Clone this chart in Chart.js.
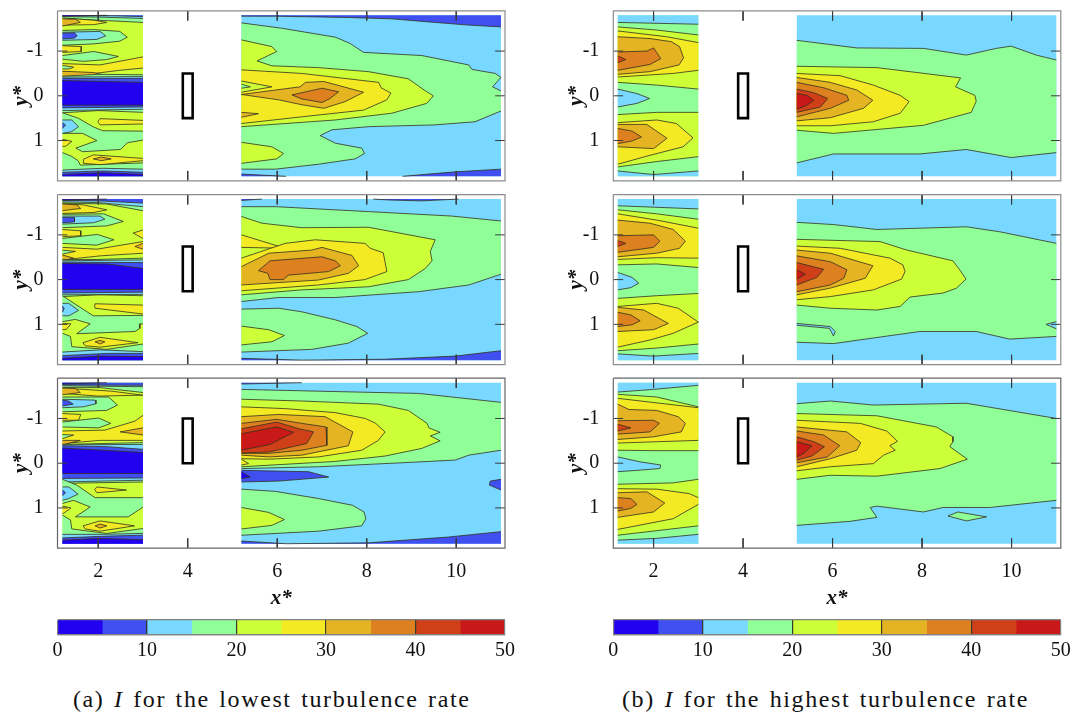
<!DOCTYPE html>
<html><head><meta charset="utf-8">
<script src="https://cdn.jsdelivr.net/npm/chart.js@4/dist/chart.umd.min.js"></script>
<style>
html,body{margin:0;padding:0;background:#fff}
#root{position:relative;width:1071px;height:713px;overflow:hidden;background:#fff}
canvas{position:absolute;filter:blur(.35px)}
.cap{position:absolute;top:686px;font:24px "Liberation Serif",serif;letter-spacing:1.6px;word-spacing:2px;white-space:pre;color:#111}
</style></head><body><div id="root">
<div class="cap" style="left:73px">(a) <i>I</i> for the lowest turbulence rate</div>
<div class="cap" style="left:622px">(b) <i>I</i> for the highest turbulence rate</div>
</div>
<script>
const levelEdges=[0,5,10,15,20,25,30,35,40,45,50];
const levelColors=['#2200f0','#4050f0','#78d8ff','#90ff98','#ccff38','#f4ea24','#e4b422','#dc8020','#d04018','#c81818'];
const xTicks=[2,4,6,8,10], yTicks=[-1,0,1], barTicks=[0,10,20,30,40,50];
const xRangeA=[1.09,11.09], xRangeB=[1.1,11.1], yRange=[-1.9,1.9];
const obstacleA=[3.89,-.5,4.11,-.5,4.11,.5,3.89,.5];
const obstacleB=[3.89,-.74,4.11,-.74,4.11,.26,3.89,.26];
const obstacleC=[3.89,-1,4.11,-1,4.11,0,3.89,0];
const fullLeft=[1.2,-1.8,3,-1.8,3,1.8,1.2,1.8];
const fullRight=[5.2,-1.8,11,-1.8,11,1.8,5.2,1.8];

const contoursA1Left=[[4,fullLeft],
[3,[1.2,-1.8,3,-1.8,3,-1.64,2.2,-1.68,1.2,-1.73]],
[2,[1.2,-1.8,3,-1.8,3,-1.73,2,-1.76,1.2,-1.77]],
[1,[1.2,-1.8,3,-1.8,3,-1.77,2.3,-1.79,1.2,-1.79]],
[0,[1.2,-1.8,2.2,-1.8,1.2,-1.78]],
[5,[1.2,-1.74,1.9,-1.69,2.19,-1.64,1.9,-1.59,1.2,-1.58]],
[6,[1.2,-1.72,1.5,-1.71,1.6,-1.64,1.2,-1.56]],
[3,[1.2,-1.46,1.9,-1.48,2.48,-1.44,2.65,-1.31,2.48,-1.22,1.89,-1.16,1.2,-1.13]],
[2,[1.2,-1.42,2.04,-1.44,2.17,-1.34,1.97,-1.26,1.2,-1.24]],
[1,[1.2,-1.4,1.47,-1.41,1.53,-1.34,1.47,-1.29,1.2,-1.27]],
[5,[1.2,-1.12,1.62,-1.1,1.62,-.99,1.2,-.97]],
[3,[1.2,-.9,1.9,-.99,2.45,-.88,2.19,-.81,1.67,-.77,1.2,-.82]],
[5,[1.2,-.72,2.04,-.69,3,-.87,3,-.62,2.48,-.57,1.67,-.47,1.2,-.54]],
[3,[1.2,-.68,1.45,-.64,1.35,-.6,1.2,-.6]],
[6,[1.2,-.55,1.9,-.52,2.1,-.47,1.2,-.42]],
[3,[1.2,-.44,2,-.48,3,-.47,3,.37,2,.33,1.2,.38]],
[2,[1.2,-.42,3,-.43,3,.3,1.2,.33]],
[1,[1.2,-.39,3,-.39,3,.25,1.2,.27]],
[0,[1.2,-.34,3,-.3,3,.21,1.2,.21]],
[3,[1.2,.38,1.55,.5,1.9,.7,2.1,.78,3,.79,3,.99,2.65,1.05,2.5,1.2,1.65,1.25,1.5,1.17,1.97,1,1.65,.84,1.2,.84]],
[2,[1.2,.54,1.41,.54,1.56,.69,1.41,.8,1.2,.84]],
[1,[1.2,.6,1.27,.65,1.2,.73]],
[5,[1.2,.97,1.41,1.02,1.27,1.13,1.2,1.13]],
[5,[2.04,.51,3,.55,3,.63,2.04,.65,1.99,.58]],
[3,[1.2,1.27,1.4,1.35,1.55,1.45,1.6,1.55,3,1.5,3,1.8,1.2,1.8]],
[5,[1.67,1.42,1.89,1.32,3,1.4,3,1.45,2.04,1.54,1.67,1.51]],
[6,[1.89,1.41,2.07,1.37,2.29,1.41,2.07,1.45]],
[2,[1.2,1.66,2.1,1.62,3,1.64,3,1.8,1.2,1.8]],
[1,[1.2,1.71,2.1,1.68,3,1.71,3,1.8,1.2,1.8]],
[0,[1.2,1.76,2.1,1.72,3,1.76,3,1.8,1.2,1.8]]];

const contoursA1Right=[[2,fullRight],
[1,[5.2,-1.8,11,-1.8,11,-1.54,10.28,-1.58,9.53,-1.64,8.56,-1.72,7.59,-1.75,5.96,-1.78,5.2,-1.78]],
[1,[5.2,1.75,6.2,1.8,8.8,1.8,9.98,1.7,11,1.64,11,1.8,5.2,1.8]],
[3,[5.2,-1.63,6.1,-1.51,7.3,-1.31,7.63,-1.17,7.93,-.97,9.23,-.9,10.28,-.69,10.35,-.59,10.87,-.5,11,-.41,10.81,-.2,11,-.11,11,.34,10.42,.58,9.53,.65,8.04,.69,7.22,.76,6.96,.89,7.3,1.06,7.89,1.17,7.95,1.29,7.74,1.41,6.92,1.53,5.96,1.64,5.2,1.64]],
[4,[5.2,-1.25,5.88,-1.1,5.99,-.99,5.55,-.78,5.88,-.67,6.92,-.63,8.04,-.54,8.93,-.38,9.31,-.11,9.49,0,9.34,.17,8.56,.39,7.3,.54,5.2,.69]],
[4,[5.2,1.04,5.88,1.14,6.14,1.29,5.99,1.41,5.2,1.51]],
[5,[5.2,-.58,6.55,-.5,8.27,-.3,8.32,-.18,8.54,-.06,8.45,.09,7.93,.32,6.55,.47,5.2,.62]],
[4,[5.2,-.33,5.88,-.2,5.2,-.08]],
[3,[5.2,-.26,5.4,-.2,5.2,-.17]],
[6,[5.2,-.03,6.51,-.2,6.63,-.3,7.04,-.32,7.93,-.08,7.52,.13,7.04,.28,6.55,.2,6.03,.09]],
[7,[6.33,-.02,7,-.17,7.37,-.09,7.18,.06,7,.15,6.55,.07]],
[6,[5.2,.37,5.58,.4,5.2,.48]]];

const contoursA2Left=[[4,fullLeft],
[3,[1.2,-1.8,3,-1.8,3,-1.54,2.19,-1.69,1.2,-1.71]],
[2,[1.2,-1.8,3,-1.8,3,-1.63,2,-1.72,1.2,-1.74]],
[1,[1.2,-1.8,3,-1.8,3,-1.71,2,-1.76,1.2,-1.77]],
[0,[1.2,-1.8,2.19,-1.8,1.2,-1.78]],
[5,[1.2,-1.7,1.67,-1.67,2.19,-1.56,1.9,-1.5,1.2,-1.48]],
[6,[1.2,-1.69,1.52,-1.67,1.61,-1.59,1.2,-1.54]],
[3,[1.2,-1.46,2.12,-1.47,2.56,-1.3,2.19,-1.2,1.2,-1.16]],
[2,[1.2,-1.42,2.04,-1.42,2.15,-1.35,1.89,-1.27,1.2,-1.24]],
[1,[1.2,-1.39,1.47,-1.39,1.47,-1.29,1.2,-1.27]],
[5,[1.2,-1.12,1.61,-1.09,1.61,-.98,1.2,-.96]],
[3,[1.2,-.92,1.98,-1.01,2.35,-.89,1.97,-.77,1.2,-.81]],
[5,[2.78,-1.04,3,-1.11,3,-.92]],
[5,[1.2,-.72,1.97,-.68,3,-.85,3,-.59,2.04,-.53,1.2,-.44]],
[6,[2.82,-.74,3,-.81,3,-.68]],
[3,[1.2,-.66,1.49,-.63,1.2,-.57]],
[6,[1.2,-.55,1.45,-.48,1.2,-.42]],
[3,[1.2,-.45,1.97,-.45,3,-.48,3,.36,2,.34,1.2,.38]],
[2,[1.2,-.42,3,-.44,3,.33,1.2,.34]],
[1,[1.2,-.39,3,-.38,3,.28,1.2,.3]],
[0,[1.2,-.36,2.19,-.35,3,-.25,3,.22,1.2,.22]],
[3,[1.2,.36,1.52,.57,1.89,.81,3,.8,3,.99,2.93,.99,2.93,1.09,2.82,1.16,1.52,1.21,1.82,.99,1.49,.89,1.2,.94]],
[5,[1.93,.54,3,.57,3,.77,1.93,.64,1.92,.6]],
[2,[1.2,.53,1.34,.53,1.56,.69,1.34,.81,1.2,.81]],
[1,[1.2,.59,1.24,.64,1.2,.73]],
[5,[1.2,.98,1.39,.99,1.29,1.11,1.2,1.12]],
[3,[1.2,1.2,1.38,1.27,1.41,1.5,2.19,1.56,3,1.44,3,1.8,1.2,1.8]],
[5,[1.66,1.41,2.04,1.29,2.89,1.41,2.04,1.51,1.71,1.48]],
[6,[1.93,1.39,2.04,1.36,2.15,1.39,2.04,1.44]],
[2,[1.2,1.62,2.04,1.57,3,1.61,3,1.8,1.2,1.8]],
[1,[1.2,1.7,2.19,1.65,3,1.65,3,1.8,1.2,1.8]],
[0,[1.2,1.76,2.04,1.71,3,1.72,3,1.8,1.2,1.8]]];

const contoursA2Right=[[2,fullRight],
[1,[5.2,-1.8,5.66,-1.8,5.2,-1.77]],
[1,[8.15,-1.8,10.05,-1.8,9.23,-1.76,8.49,-1.78]],
[1,[5.2,1.76,6.55,1.8,8.41,1.78,9.98,1.71,11,1.59,11,1.8,5.2,1.8]],
[3,[5.2,-1.63,5.97,-1.63,8.04,-1.52,9.9,-1.42,11,-1.31,11,-.12,10.28,.12,9.16,.27,7.3,.4,6.03,.4,5.2,.49]],
[3,[5.2,.66,6.03,.64,6.55,.72,7.3,.9,7.78,1.05,8.02,1.2,7.59,1.42,6.77,1.56,5.2,1.62]],
[4,[5.2,-1.41,5.66,-1.26,6.55,-1.16,8.04,-1.17,9.53,-.89,9.42,-.63,9.46,-.42,9.31,-.25,8.93,0,8.04,.16,6.55,.23,5.2,.34]],
[4,[5.2,1.04,5.81,1.12,6.16,1.25,5.88,1.39,5.2,1.46]],
[5,[5.2,-1,6.18,-.7,5.2,-.72]],
[5,[5.2,-.48,6.18,-.81,6.85,-.89,7.96,-.81,8.08,-.7,8.37,-.6,8.45,-.18,7.96,0,6.92,.12,5.2,.25]],
[6,[5.2,-.29,5.81,-.59,6.77,-.66,7,-.72,7.67,-.54,7.82,-.31,7.59,-.14,6.92,.01,5.2,.12]],
[7,[5.58,-.2,5.84,-.42,7,-.51,7.3,-.42,7.41,-.31,7.15,-.18,6.25,-.1,6.14,0,5.84,0,5.79,-.14]]];

const contoursA3Left=[[4,fullLeft],
[3,[1.2,-1.8,3,-1.8,3,-1.58,2.04,-1.69,1.2,-1.69]],
[2,[1.2,-1.8,3,-1.8,3,-1.71,1.2,-1.73]],
[1,[1.2,-1.8,3,-1.8,3,-1.74,1.2,-1.75]],
[0,[1.2,-1.8,2.19,-1.8,1.2,-1.77]],
[5,[1.2,-1.67,1.67,-1.65,2.3,-1.61,3,-1.52,2,-1.5,1.2,-1.56]],
[6,[1.2,-1.68,1.49,-1.67,1.6,-1.58,1.2,-1.53]],
[3,[1.2,-1.48,2.23,-1.48,2.43,-1.3,2.19,-1.18,1.2,-1.15]],
[2,[1.2,-1.43,1.93,-1.41,1.95,-1.33,1.67,-1.26,1.2,-1.24]],
[1,[1.2,-1.41,1.34,-1.39,1.44,-1.32,1.2,-1.28]],
[5,[1.2,-1.11,1.61,-1.09,1.56,-.96,1.2,-.96]],
[3,[1.2,-.92,2.01,-1.01,2.28,-.89,2.01,-.79,1.2,-.81]],
[5,[1.2,-.72,2.15,-.74,2.52,-.85,2.82,-.94,3,-1.07,3,-.51,2.04,-.51,1.2,-.44]],
[6,[2.49,-.7,3,-.79,3,-.63]],
[3,[1.2,-.64,1.45,-.63,1.2,-.55]],
[6,[1.2,-.51,1.6,-.51,1.2,-.41]],
[3,[1.2,-.42,3,-.46,3,.42,1.2,.45]],
[2,[1.2,-.41,3,-.42,3,.38,1.2,.42]],
[1,[1.2,-.39,2.19,-.37,3,-.31,3,.33,1.2,.34]],
[0,[1.2,-.34,3,-.24,3,.23,1.2,.23]],
[3,[1.2,.36,1.52,.49,1.93,.77,3,.77,3,.98,2.67,1.2,1.49,1.2,1.82,.98,1.45,.83,1.2,.9]],
[5,[1.97,.53,2.63,.6,1.97,.66,1.92,.59]],
[2,[1.2,.53,1.34,.53,1.55,.69,1.34,.79,1.2,.83]],
[1,[1.2,.6,1.27,.66,1.2,.73]],
[5,[1.2,.96,1.39,1,1.23,1.12,1.2,1.12]],
[3,[1.2,1.16,1.38,1.27,1.41,1.47,2.19,1.57,3,1.46,3,1.8,1.2,1.8]],
[5,[1.66,1.4,2.04,1.29,2.81,1.4,2.04,1.52,1.71,1.47]],
[6,[1.93,1.4,2.04,1.36,2.19,1.4,2.04,1.45]],
[2,[1.2,1.59,2.04,1.59,3,1.57,3,1.8,1.2,1.8]],
[1,[1.2,1.67,2.19,1.63,3,1.61,3,1.8,1.2,1.8]],
[0,[1.2,1.72,2.04,1.68,3,1.71,3,1.8,1.2,1.8]]];

const contoursA3Right=[[2,fullRight],
[1,[5.2,-1.8,6.55,-1.8,5.2,-1.77]],
[1,[5.2,1.74,6.2,1.8,8.04,1.78,9.83,1.65,11,1.53,11,1.8,5.2,1.8]],
[1,[5.2,.16,6.7,.19,7.15,.31,6.03,.4,5.2,.42]],
[0,[5.2,.19,5.4,.31,5.2,.34]],
[1,[10.76,.4,11,.36,11,.6,10.74,.49]],
[3,[5.2,-1.65,6.92,-1.61,9.16,-1.56,11,-1.36,11,-.29,10.28,-.18,9.98,-.07,8.79,-.01,6.92,.08,5.2,.12]],
[3,[5.2,.58,5.96,.63,6.92,.79,7.68,.94,7.94,1.09,7.98,1.24,7.89,1.4,6.92,1.52,5.2,1.61]],
[4,[5.2,-1.43,6.55,-1.39,8.26,-1.32,8.93,-1.18,9.35,-.89,9.39,-.79,9.64,-.69,9.42,-.61,9.64,-.5,9.23,-.33,8.41,-.16,7.3,-.04,5.2,.08]],
[4,[5.2,.99,5.81,1.1,6.16,1.26,5.88,1.39,5.2,1.47]],
[5,[5.2,-1.26,6.18,-1.22,7.3,-1.13,7.97,-1,8.2,-.89,8.41,-.7,8.26,-.51,7.89,-.29,6.92,-.14,5.81,-.09,5.2,-.1]],
[5,[5.2,-.09,5.36,.01,5.2,.04]],
[6,[5.2,-1.04,6.03,-1.09,7.07,-1.04,7.69,-.7,7.59,-.39,6.55,-.18,5.81,-.14,5.2,-.18]],
[7,[5.2,-.89,5.99,-.98,6.55,-.89,7.09,-.81,7.11,-.4,6.55,-.29,5.81,-.22,5.2,-.22]],
[8,[5.2,-.77,5.99,-.92,6.48,-.77,6.81,-.7,6.66,-.44,5.81,-.25,5.2,-.23]],
[9,[5.2,-.66,5.99,-.81,6.37,-.69,5.84,-.42,5.2,-.29]]];

const contoursB1Left=[[3,fullLeft],
[2,[1.2,-1.8,3,-1.8,3,-1.6,1.2,-1.64]],
[2,[1.2,-.15,1.63,-.05,1.91,.06,1.63,.17,1.2,.25]],
[2,[1.2,1.68,2,1.76,3,1.68,3,1.8,1.2,1.8]],
[4,[1.2,-1.54,2.07,-1.47,3,-1.36,3,-.15,2.07,-.24,1.2,-.3]],
[5,[1.2,-1.45,2.29,-1.32,3,-1.19,3,-.57,2.44,-.5,1.2,-.42]],
[6,[1.2,-1.32,1.92,-1.28,2.4,-1.21,2.58,-1.1,2.67,-.85,2.57,-.69,1.92,-.54,1.2,-.48]],
[7,[1.2,-.98,1.85,-1,2,-1.07,2.16,-.83,1.92,-.7,1.2,-.57]],
[8,[1.2,-.89,1.38,-.81,1.2,-.74]],
[4,[1.2,.42,2.07,.37,3,.37,3,1.36,2.07,1.47,1.2,1.59]],
[5,[1.2,.6,2.07,.54,2.51,.62,2.88,.94,2.66,1.14,1.92,1.33,1.2,1.53]],
[6,[1.2,.64,1.85,.64,2.3,.95,2,1.18,1.2,1.14]],
[7,[1.2,.73,1.52,.79,1.73,.92,1.52,1.01,1.2,1.07]]];

const contoursB1Right=[[2,fullRight],
[3,[5.2,-1.24,6.54,-1.07,8.03,-1.06,8.99,-.91,9.66,-1.06,9.99,-1.11,10.55,-.91,11,-.8,11,1.27,9.99,1.38,8.99,1.2,7.95,1.3,6.02,1.3,5.2,1.5]],
[4,[5.2,-.66,6.99,-.63,8.86,-.4,8.75,-.2,9.18,-.01,9.21,.12,9.1,.37,8.03,.66,6.02,.84,5.2,.77]],
[5,[5.2,-.5,6.17,-.45,6.91,-.24,7.51,-.01,7.71,.13,7.51,.39,6.91,.58,5.95,.67,5.2,.67]],
[6,[5.2,-.41,5.95,-.3,6.54,-.13,6.9,.1,6.69,.28,5.95,.49,5.2,.56]],
[7,[5.2,-.3,5.8,-.18,6.32,-.01,6.36,.1,5.95,.28,5.2,.47]],
[8,[5.2,-.15,5.58,-.07,5.89,.06,5.73,.25,5.2,.37]],
[9,[5.2,-.05,5.43,-.01,5.58,.1,5.43,.21,5.2,.3]]];

const contoursB2Left=[[3,fullLeft],
[2,[1.2,-1.8,3,-1.8,3,-1.58,1.2,-1.65]],
[2,[1.2,-.16,1.52,-.05,1.67,.08,1.49,.18,1.2,.23]],
[2,[1.2,1.66,2,1.71,3,1.65,3,1.8,1.2,1.8]],
[4,[1.2,-1.56,2.07,-1.47,3,-1.35,3,-.27,2.07,-.35,1.2,-.33]],
[5,[1.2,-1.47,2.07,-1.33,3,-1.15,3,-.48,2.07,-.49,1.2,-.45]],
[6,[1.2,-1.33,1.92,-1.26,2.44,-1.12,2.71,-.86,2.58,-.7,2.07,-.59,1.2,-.51]],
[7,[1.2,-.98,2,-1,2.14,-.86,2,-.72,1.2,-.61]],
[8,[1.2,-.87,1.38,-.81,1.2,-.74]],
[4,[1.2,.42,2.07,.36,3,.31,3,1.44,2.07,1.53,1.2,1.59]],
[5,[1.2,.6,2.07,.53,2.55,.64,3,.95,2.44,1.2,1.92,1.35,1.2,1.51]],
[6,[1.2,.62,1.78,.68,2.33,.98,2,1.12,1.2,1.16]],
[7,[1.2,.73,1.49,.79,1.7,.92,1.52,1.01,1.2,1.05]]];

const contoursB2Right=[[2,fullRight],
[3,[5.2,-1.28,6.02,-1.23,6.99,-1.12,8.99,-1.18,9.73,-1.07,11,-.81,11,1.27,9.96,1.33,9.21,1.16,7.95,1.16,6.02,1.43,5.2,1.4]],
[2,[5.2,.98,5.95,1.05,6.06,1.16,6.02,1.26,5.93,1.09,5.2,1.02]],
[2,[10.77,1,11,.94,11,1.1]],
[4,[5.2,-.9,7.06,-.85,7.66,-.66,8.69,-.42,8.84,-.22,8.98,-.01,8.77,.19,8.47,.3,7.73,.39,7.51,.6,6.99,.68,5.95,.64,5.2,.57]],
[5,[5.2,-.75,6.17,-.7,7.28,-.48,7.57,-.33,7.62,-.18,7.54,-.01,6.91,.23,5.95,.38,5.2,.45]],
[6,[5.2,-.66,5.95,-.59,6.9,-.31,6.73,-.03,5.95,.19,5.2,.34]],
[7,[5.2,-.53,5.95,-.4,6.32,-.22,6.25,-.03,5.95,.12,5.2,.27]],
[8,[5.2,-.38,5.8,-.23,5.65,-.05,5.2,.12]],
[9,[5.2,-.22,5.39,-.12,5.2,-.01]]];

const contoursB3Left=[[3,fullLeft],
[2,[1.2,-1.8,3,-1.8,3,-1.74,2,-1.65,1.2,-1.59]],
[2,[1.2,-.14,1.7,-.03,2.16,.04,2.14,.12,1.63,.16,1.2,.19]],
[2,[1.2,1.72,2.07,1.68,3,1.59,3,1.8,1.2,1.8]],
[4,[1.2,-1.54,2.07,-1.48,3,-1.26,3,-.28,2.07,-.28,1.2,-.29]],
[5,[1.2,-1.45,3,-1.24,3,-.51,2.07,-.48,1.2,-.45]],
[6,[1.2,-1.32,1.45,-1.2,2.07,-1.18,2.55,-1.04,2.71,-.89,2.62,-.7,2,-.59,1.2,-.53]],
[7,[1.2,-.95,2,-.96,2.13,-.89,1.92,-.7,1.2,-.65]],
[8,[1.2,-.87,1.49,-.79,1.2,-.72]],
[4,[1.2,.47,2.44,.44,3,.36,3,1.4,1.2,1.61]],
[5,[1.2,.57,2.07,.58,2.8,.68,3,.77,3,.92,2.44,1.24,1.2,1.48]],
[6,[1.2,.66,1.85,.64,2.25,.89,2,1.09,1.2,1.21]],
[7,[1.2,.77,1.49,.79,1.63,.92,1.49,1.01,1.2,1.07]]];

const contoursB3Right=[[2,fullRight],
[3,[5.2,-1.33,5.95,-1.39,6.91,-1.3,8.99,-1.34,11,-1,11,.83,9.51,.99,8.47,.99,8.03,1.09,6.99,.96,6.84,.99,6.99,1.21,6.39,1.3,5.2,1.39]],
[3,[8.8,1.09,9.44,1.2,8.99,1.29,8.58,1.18]],
[4,[5.2,-1.11,6.99,-1.06,8.32,-.81,8.69,-.59,8.69,-.48,8.62,-.37,9.01,-.09,8.4,.12,6.99,.29,5.95,.27,5.2,.36]],
[5,[5.2,-.96,6.62,-.89,7.21,-.72,7.45,-.49,7.28,-.39,7.4,-.29,7.14,-.18,6.91,.01,5.95,.08,5.2,.17]],
[6,[5.2,-.81,6.32,-.7,6.63,-.46,6.54,-.29,5.95,-.1,5.2,.08]],
[7,[5.2,-.72,5.8,-.63,6.16,-.39,5.88,-.14,5.2,-.01]],
[8,[5.2,-.59,5.58,-.48,5.82,-.37,5.54,-.16,5.2,-.07]],
[9,[5.2,-.48,5.54,-.39,5.36,-.22,5.2,-.14]]];

const SERIF='"Liberation Serif",serif', TICK_COLOR='#111';
const toPoints=f=>{const p=[];for(let i=0;i<f.length;i+=2)p.push({x:f[i],y:f[i+1]});return p;};
const onEdge=(a,b)=>(a.x===b.x&&[1.2,3,5.2,11].includes(a.x))||(a.y===b.y&&Math.abs(a.y)===1.8);
function lineDs(data,extra){return Object.assign({data,showLine:true,fill:false,pointRadius:0,tension:0},extra);}
function contourDatasets(list){
  const out=[];
  for(const [lvl,flat] of list){
    const pts=toPoints(flat);
    out.push(lineDs(pts,{fill:'shape',backgroundColor:levelColors[lvl],borderColor:'transparent',borderWidth:0}));
    out.push(lineDs(pts.concat([pts[0]]),{borderColor:'#33301e',borderWidth:.8,
      segment:{borderColor:c=>onEdge(c.p0.parsed,c.p1.parsed)?'transparent':undefined}}));
  }
  return out;
}
function guideDatasets(frameColor,xRange){
  const [x0,x1]=xRange,[y0,y1]=yRange,L=.22,seg=[],gap={x:NaN,y:NaN};
  for(const v of xTicks)seg.push({x:v,y:y0},{x:v,y:y0+L},gap,{x:v,y:y1-L},{x:v,y:y1},gap);
  for(const v of yTicks)seg.push({x:x0,y:v},{x:x0+L,y:v},gap,{x:x1-L,y:v},{x:x1,y:v},gap);
  return [lineDs(seg,{borderColor:'#3a3a3a',borderWidth:1}),
    lineDs(toPoints([x0,y0,x1,y0,x1,y1,x0,y1,x0,y0]),{borderColor:frameColor,borderWidth:1.2,clip:false})];
}
function zeroPad(s){s.paddingTop=s.paddingBottom=s.paddingLeft=s.paddingRight=0;}
function makePanel(o){
  const cv=document.createElement('canvas');
  const plotW=447.5,plotH=170,cl=Math.floor(o.left-57.5),ct=Math.floor(o.top-8);
  const axisW=o.left-cl,pt=o.top-ct,axisH=o.bottomRow?63:2;
  const W=Math.ceil(axisW+plotW+8),H=Math.ceil(pt+plotH+axisH);
  cv.width=W;cv.height=H;cv.style.left=cl+'px';cv.style.top=ct+'px';
  cv.style.width=W+'px';cv.style.height=H+'px';
  document.getElementById('root').appendChild(cv);
  const ds=[...contourDatasets(o.left_),...contourDatasets(o.right_),
    lineDs(toPoints(o.obstacle.concat(o.obstacle.slice(0,2))),{borderColor:'#000',borderWidth:2.6,borderCapStyle:'square'}),
    ...guideDatasets(o.frame,o.xRange)];
  ds.forEach((d,i)=>d.order=-i);
  new Chart(cv,{type:'scatter',data:{datasets:ds},options:{
    responsive:false,animation:false,events:[],devicePixelRatio:1,
    layout:{padding:{top:pt,right:W-axisW-plotW,bottom:H-pt-plotH-axisH,left:0}},
    plugins:{legend:{display:false},tooltip:{enabled:false},title:{display:false}},
    scales:{
      x:{type:'linear',min:o.xRange[0],max:o.xRange[1],afterBuildTicks:s=>{s.ticks=xTicks.map(v=>({value:v}));},
        grid:{display:false,drawTicks:false},border:{display:false},
        ticks:{display:!!o.bottomRow,maxRotation:0,autoSkip:false,padding:12,color:TICK_COLOR,font:{family:SERIF,size:20},callback:v=>String(v)},
        title:{display:!!o.bottomRow,text:'x*',color:TICK_COLOR,padding:0,font:{family:SERIF,size:21,style:'italic',weight:'bold'}},
        afterFit:s=>{s.height=axisH;zeroPad(s);}},
      y:{type:'linear',reverse:true,min:yRange[0],max:yRange[1],afterBuildTicks:s=>{s.ticks=yTicks.map(v=>({value:v}));},
        grid:{display:false,drawTicks:false},border:{display:false},
        ticks:{padding:14,autoSkip:false,color:TICK_COLOR,font:{family:SERIF,size:20},callback:v=>String(v)},
        title:{display:true,text:'y*',color:TICK_COLOR,padding:{top:9,bottom:0},font:{family:SERIF,size:21,style:'italic',weight:'bold'}},
        afterFit:s=>{s.width=axisW;zeroPad(s);}}
    }}});
}
function makeBar(left,width){
  const cv=document.createElement('canvas');
  const cl=Math.floor(left-20),W=Math.ceil(width+40),ct=612,H=56;
  cv.width=W;cv.height=H;cv.style.left=cl+'px';cv.style.top=ct+'px';
  cv.style.width=W+'px';cv.style.height=H+'px';
  document.getElementById('root').appendChild(cv);
  const ds=levelColors.map((c,i)=>({data:[[levelEdges[i],levelEdges[i+1]]],backgroundColor:c,borderWidth:0,grouped:false,barPercentage:1,categoryPercentage:1}));
  new Chart(cv,{type:'bar',data:{labels:['I'],datasets:ds},options:{
    indexAxis:'y',responsive:false,animation:false,events:[],devicePixelRatio:1,
    layout:{padding:{left:left-cl,right:W-(left-cl)-width,top:8,bottom:0}},
    plugins:{legend:{display:false},tooltip:{enabled:false}},
    scales:{
      x:{type:'linear',min:0,max:50,afterBuildTicks:s=>{s.ticks=barTicks.map(v=>({value:v}));},
        grid:{display:true,z:1,drawTicks:false,lineWidth:1.2,color:c=>(c.tick.value===0||c.tick.value===50)?'#808080':'#3a3a2a'},
        border:{display:true,color:'#808080',width:1.2,z:1},
        ticks:{padding:4,autoSkip:false,maxRotation:0,color:TICK_COLOR,font:{family:SERIF,size:20},callback:v=>String(v)},
        afterFit:s=>{s.height=H-8-14.5;zeroPad(s);}},
      y:{display:true,ticks:{display:false},grid:{display:true,offset:true,z:1,drawTicks:false,color:'#808080',lineWidth:1.2},border:{display:false},
        afterFit:s=>{s.width=0;zeroPad(s);}}
    }}});
}
const rows=[{top:10.8,ob:obstacleA,frame:'#8c8c8c'},{top:194.6,ob:obstacleB,frame:'#8c8c8c'},{top:378.2,ob:obstacleC,frame:'#666'}];
const contA=[[contoursA1Left,contoursA1Right],[contoursA2Left,contoursA2Right],[contoursA3Left,contoursA3Right]];
const contB=[[contoursB1Left,contoursB1Right],[contoursB2Left,contoursB2Right],[contoursB3Left,contoursB3Right]];
rows.forEach((r,i)=>{
  makePanel({left:57.5,top:r.top,xRange:xRangeA,left_:contA[i][0],right_:contA[i][1],obstacle:r.ob,frame:r.frame,bottomRow:i===2});
  makePanel({left:613.3,top:r.top,xRange:xRangeB,left_:contB[i][0],right_:contB[i][1],obstacle:r.ob,frame:r.frame,bottomRow:i===2});
});
makeBar(57.5,447.5);
makeBar(613.3,447.5);
</script></body></html>
